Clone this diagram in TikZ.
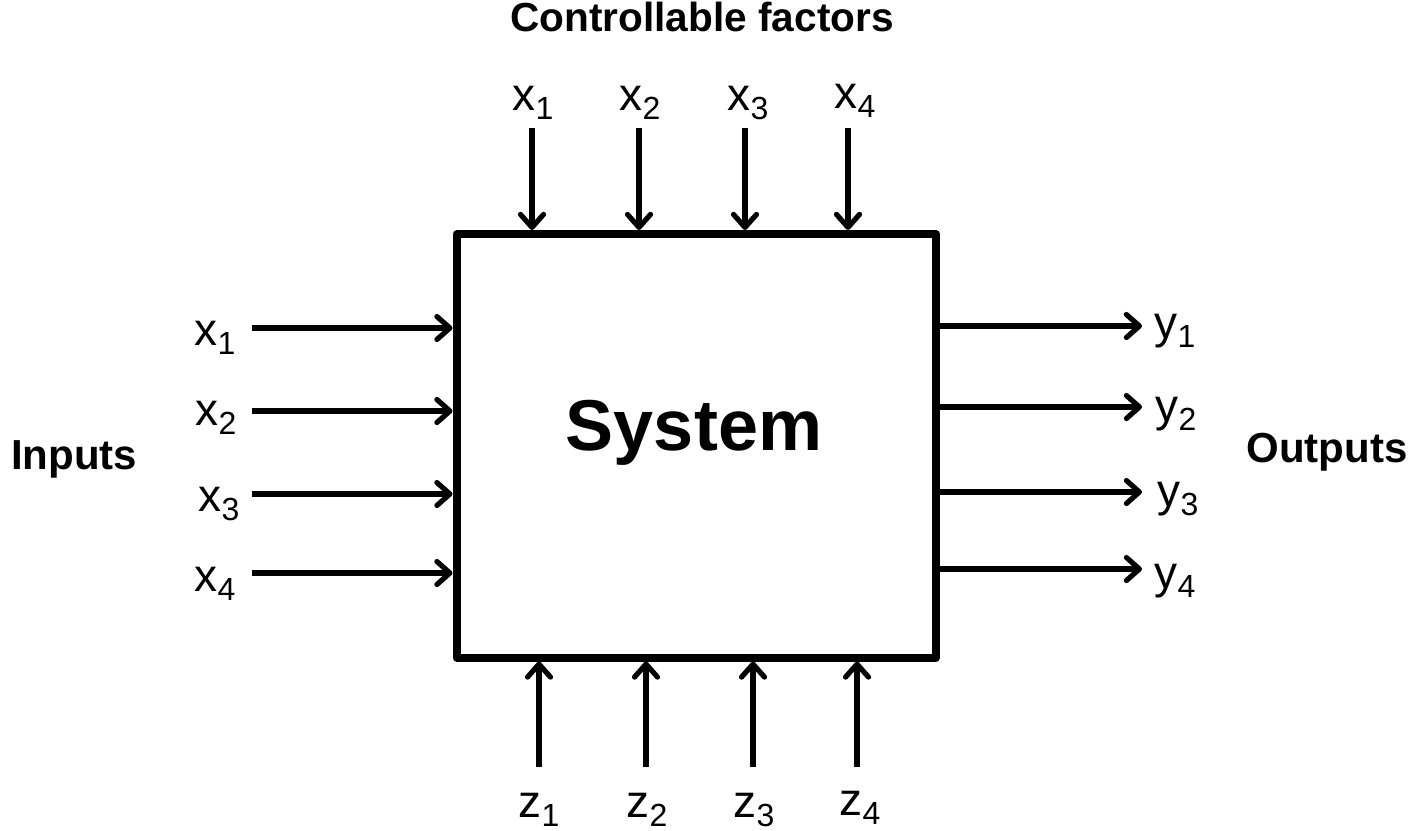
\documentclass[tikz,border=0pt]{standalone}
\usepackage{fontspec}
\setmainfont{Liberation Sans}
\usepackage{tikz}
\usetikzlibrary{arrows.meta,positioning}

% variable with a lowered index, as the slide sets it
\newcommand{\varsub}[2]{#1\raisebox{-4.5pt}{\fontsize{16}{18}\selectfont #2}}

\begin{document}
\begin{tikzpicture}[
  x=0.5pt,y=-0.5pt,
  sysbox/.style={draw,line width=4pt,line join=round,minimum width=239.75pt,minimum height=211.75pt,inner sep=0pt},
  var/.style={font=\fontsize{23}{27}\selectfont,inner sep=0pt,anchor=base},
  head/.style={font=\fontsize{20.3}{24}\selectfont\bfseries,inner sep=0pt,anchor=base},
  arrow/.style={-{Straight Barb[length=6.5pt,width=11.5pt,round]},line width=2.6pt}
]
  \useasboundingbox (0,0) rectangle (1416,830);

  \node[sysbox] (sys) at (696.25,445.75) {};
  \node[head,font=\fontsize{36}{42}\selectfont\bfseries] (sysname) at (694,450) {System};

  \node[head] (ctrl) at (702,31) {Controllable factors};
  \node[head,font=\fontsize{21}{24}\selectfont\bfseries] (inputs) at (74,469) {Inputs};
  \node[head,font=\fontsize{21}{24}\selectfont\bfseries] (outputs) at (1327,462) {Outputs};

  % controllable factors, from the top
  \coordinate (ct1) at (532,128); \draw[arrow] (ct1) -- (ct1 |- sys.north);
  \coordinate (ct2) at (639,128); \draw[arrow] (ct2) -- (ct2 |- sys.north);
  \coordinate (ct3) at (745,128); \draw[arrow] (ct3) -- (ct3 |- sys.north);
  \coordinate (ct4) at (848,128); \draw[arrow] (ct4) -- (ct4 |- sys.north);
  \node[var] (lct1) at (533,110) {\varsub{x}{1}};
  \node[var] (lct2) at (640,110) {\varsub{x}{2}};
  \node[var] (lct3) at (748,110) {\varsub{x}{3}};
  \node[var] (lct4) at (855,108) {\varsub{x}{4}};

  % inputs, from the left
  \coordinate (ci1) at (252,328); \draw[arrow] (ci1) -- (ci1 -| sys.west);
  \coordinate (ci2) at (252,411); \draw[arrow] (ci2) -- (ci2 -| sys.west);
  \coordinate (ci3) at (252,494); \draw[arrow] (ci3) -- (ci3 -| sys.west);
  \coordinate (ci4) at (252,573); \draw[arrow] (ci4) -- (ci4 -| sys.west);
  \node[var] (lci1) at (215,345) {\varsub{x}{1}};
  \node[var] (lci2) at (216,425) {\varsub{x}{2}};
  \node[var] (lci3) at (219,511) {\varsub{x}{3}};
  \node[var] (lci4) at (215,591) {\varsub{x}{4}};

  % outputs, to the right
  \coordinate (co1) at (1142,326); \draw[arrow] (co1 -| sys.east) -- (co1);
  \coordinate (co2) at (1142,407); \draw[arrow] (co2 -| sys.east) -- (co2);
  \coordinate (co3) at (1142,492); \draw[arrow] (co3 -| sys.east) -- (co3);
  \coordinate (co4) at (1142,569); \draw[arrow] (co4 -| sys.east) -- (co4);
  \node[var] (lco1) at (1175,338) {\varsub{y}{1}};
  \node[var] (lco2) at (1176,421) {\varsub{y}{2}};
  \node[var] (lco3) at (1178,506) {\varsub{y}{3}};
  \node[var] (lco4) at (1175,588) {\varsub{y}{4}};

  % uncontrollable factors, from below
  \coordinate (cz1) at (539,767); \draw[arrow] (cz1) -- (cz1 |- sys.south);
  \coordinate (cz2) at (646,767); \draw[arrow] (cz2) -- (cz2 |- sys.south);
  \coordinate (cz3) at (753,767); \draw[arrow] (cz3) -- (cz3 |- sys.south);
  \coordinate (cz4) at (857,767); \draw[arrow] (cz4) -- (cz4 |- sys.south);
  \node[var] (lcz1) at (539,817) {\varsub{z}{1}};
  \node[var] (lcz2) at (647,817) {\varsub{z}{2}};
  \node[var] (lcz3) at (754,817) {\varsub{z}{3}};
  \node[var] (lcz4) at (860,815) {\varsub{z}{4}};
\end{tikzpicture}
\end{document}
